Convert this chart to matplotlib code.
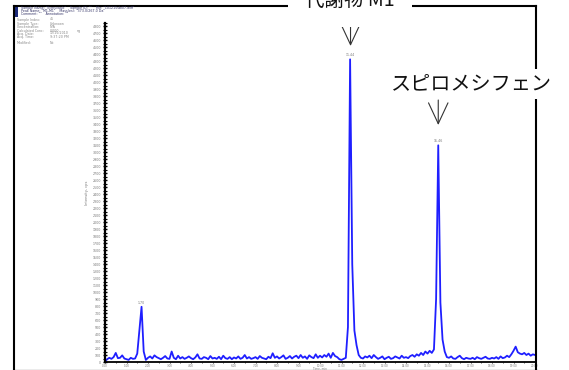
import numpy as np
import matplotlib
matplotlib.use("Agg")
import matplotlib.pyplot as plt
from matplotlib.lines import Line2D
from matplotlib.patches import Rectangle
from matplotlib.ticker import MultipleLocator, FormatStrFormatter

W, H = 569, 370

# chromatogram: scan times (min) every 0.1 min, intensity (cps)
time_min = np.round(np.arange(0, 201) * 0.1, 1)
intensity = [
    10, 40, 60, 45, 70, 130, 55, 60, 95, 50,          # 0.x
    40, 30, 60, 45, 50, 120, 450, 790, 150, 30,       # 1.x
    60, 80, 50, 95, 70, 55, 40, 60, 85, 50,           # 2.x
    45, 150, 60, 40, 90, 50, 70, 45, 60, 80,          # 3.x
    55, 40, 65, 110, 50, 45, 70, 60, 40, 85,          # 4.x
    50, 60, 45, 75, 40, 90, 55, 45, 70, 40,           # 5.x
    65, 50, 80, 45, 60, 100, 50, 70, 45, 55,          # 6.x
    70, 45, 85, 60, 50, 40, 75, 55, 125, 60,          # 7.x
    80, 50, 70, 95, 45, 60, 85, 50, 75, 90,           # 8.x
    55, 100, 60, 80, 45, 95, 70, 55, 110, 60,         # 9.x
    90, 65, 100, 75, 120, 60, 130, 85, 70, 40,        # 10.x
    30, 45, 60, 500, 4330, 1400, 450, 240, 100, 60,   # 11.x
    50, 80, 65, 90, 55, 100, 70, 45, 60, 80,          # 12.x
    40, 60, 75, 45, 55, 80, 65, 50, 90, 60,           # 13.x
    70, 55, 85, 100, 75, 110, 90, 130, 100, 150,      # 14.x
    120, 160, 130, 180, 900, 3100, 850, 320, 150, 70, # 15.x
    60, 80, 50, 45, 70, 90, 55, 40, 60, 50,           # 16.x
    45, 60, 40, 70, 55, 45, 60, 75, 50, 45,           # 17.x
    60, 50, 70, 45, 80, 55, 65, 90, 70, 110,          # 18.x
    160, 220, 140, 120, 110, 130, 100, 120, 90, 110,  # 19.x
    100,                                              # 20.0
]

peak_rt = [1.7, 11.4, 15.5]
peak_height = [790, 4330, 3100]
peak_text = ["1.70", "11.44", "15.46"]

header_lines = [
    'Sample Name: "Ecmsvaalc"    Sample ID: ""    File: "101215sbi07.wiff"',
    'Peak Name: "M1-M1"    Mass(es): "373.0/267.0 Da"',
    'Comment: ""    Annotation: ""',
]
info_lines = [
    ("Sample Index:", "45", ""),
    ("Sample Type:", "Unknown", ""),
    ("Concentration:", "N/A", ""),
    ("Calculated Conc:", "0.000", "ng"),
    ("Acq. Date:", "12/15/2010", ""),
    ("Acq. Time:", "9:37:20 PM", ""),
    ("Modified:", "No", ""),
]
info_y = [19.5, 24, 27, 31, 33.5, 37, 43.5]

plt.rcParams["font.family"] = ["DejaVu Sans"]
jp_font = ["Noto Sans CJK JP", "DejaVu Sans"]

fig = plt.figure(figsize=(W / 100, H / 100), dpi=100)


def fx(px):
    return px / W


def fy(py):
    return 1 - py / H


ax = fig.add_axes([fx(105), fy(362), fx(535) - fx(105), fy(23) - fy(362)])
ax.plot(time_min, intensity, color="#1f1fff", lw=1.3, solid_joinstyle="round")
ax.set_xlim(0, 20)
ax.set_ylim(0, 4850)

for s in ["top", "right"]:
    ax.spines[s].set_visible(False)
ax.spines["left"].set_linewidth(1.6)
ax.spines["bottom"].set_linewidth(1.3)

ax.yaxis.set_major_locator(MultipleLocator(100))
ax.yaxis.set_minor_locator(MultipleLocator(50))
ax.xaxis.set_major_locator(MultipleLocator(1))
ax.xaxis.set_minor_locator(MultipleLocator(0.5))
ax.xaxis.set_major_formatter(FormatStrFormatter("%.2f"))
ax.tick_params(axis="y", which="major", direction="inout", length=3.5, width=1.0,
               labelsize=2.3, labelcolor="#777777", pad=1)
ax.tick_params(axis="y", which="minor", direction="inout", length=2.5, width=0.8)
ax.tick_params(axis="x", which="major", direction="out", length=1.0, width=0.6,
               labelsize=2.0, labelcolor="#777777", pad=0.1)
ax.tick_params(axis="x", which="minor", direction="out", length=0.7, width=0.5)
ax.set_xlabel("Time, min", fontsize=2.0, color="#777777", va="center")
ax.xaxis.set_label_coords(0.5, -6.6 / 339)
ax.set_ylabel("Intensity, cps", fontsize=2.6, color="#777777", labelpad=3)

for rt, h, lab in zip(peak_rt, peak_height, peak_text):
    ax.annotate(lab, (rt, h), xytext=(0, 1.5), textcoords="offset points",
                ha="center", va="bottom", fontsize=2.3, color="#777777")

# outer frame of the pasted screenshot
frame_kw = dict(transform=fig.transFigure, color="black", lw=1.5)
fig.add_artist(Line2D([fx(14), fx(14)], [fy(6), fy(370)], **frame_kw))
fig.add_artist(Line2D([fx(14), fx(536)], [fy(6), fy(6)], **frame_kw))
fig.add_artist(Line2D([fx(536), fx(536)], [fy(6), fy(369)], **frame_kw))
fig.add_artist(Line2D([fx(13), fx(537)], [fy(369.5), fy(369.5)],
                      transform=fig.transFigure, color="#9a9a9a", lw=1.0, zorder=0))
fig.add_artist(Rectangle((fx(15), fy(17)), fx(3), fy(6) - fy(17),
                         transform=fig.transFigure, color="#1c2a7a", lw=0))

# header text block
for i, line in enumerate(header_lines):
    fig.text(fx(21), fy([7.5, 11, 14][i]), line, fontsize=2.3, color="#333366",
             va="center", ha="left")
for (k, v, u), y in zip(info_lines, info_y):
    fig.text(fx(17), fy(y), k, fontsize=2.3, color="#888888", va="center")
    fig.text(fx(50), fy(y), v, fontsize=2.3, color="#888888", va="center")
    if u:
        fig.text(fx(77), fy(y), u, fontsize=2.3, color="#888888", va="center")

# Japanese callouts with arrows
fig.text(fx(350), fy(0), "代謝物 M1", family=jp_font, fontsize=14, ha="center",
         va="center", color="#111111",
         bbox=dict(facecolor="white", edgecolor="none", pad=12))
fig.text(fx(471), fy(84), "スピロメシフェン", family=jp_font, fontsize=14.5,
         ha="center", va="center", color="#111111",
         bbox=dict(facecolor="white", edgecolor="none", pad=3))

arrow_kw = dict(arrowstyle="->,head_length=0.75,head_width=0.35", color="#333333",
                lw=0.8, mutation_scale=20, shrinkA=0, shrinkB=0)
ax.annotate("", xy=(11.42, fy(46)), xytext=(11.42, fy(19)),
            xycoords=("data", "figure fraction"), textcoords=("data", "figure fraction"),
            arrowprops=arrow_kw, annotation_clip=False)
ax.annotate("", xy=(15.5, fy(125)), xytext=(15.5, fy(100)),
            xycoords=("data", "figure fraction"), textcoords=("data", "figure fraction"),
            arrowprops=arrow_kw, annotation_clip=False)

fig.savefig("out.png", dpi=100)
